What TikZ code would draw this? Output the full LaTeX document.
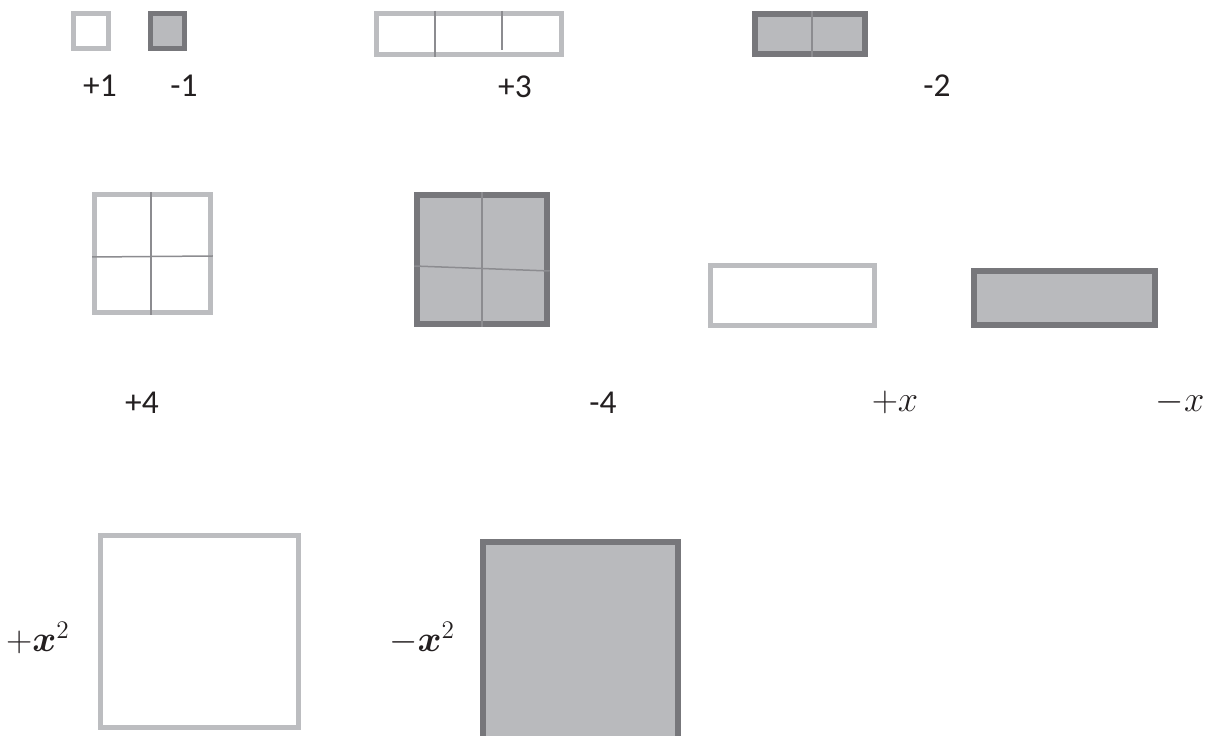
\documentclass[tikz,border=0pt]{standalone}
\usepackage{amsmath}
\usepackage{fontspec}
\setmainfont{Carlito}
\usepackage{xcolor}
\definecolor{tglight}{HTML}{BCBDC0}
\definecolor{tgdark}{HTML}{77777B}
\definecolor{tgfill}{HTML}{B9BABD}
\definecolor{tgdiv}{HTML}{8C8C90}
\definecolor{tgtext}{HTML}{231F20}
\usepackage{tikz}

\begin{document}
\begin{tikzpicture}[
  x=0.02cm, y=-0.02cm,
  font=\fontsize{19}{23}\selectfont,
  postile/.style={
    rectangle, inner sep=0pt,
    draw=tglight, fill=white,
    line width=0.1cm
  },
  negtile/.style={
    rectangle, inner sep=0pt,
    draw=tgdark, fill=tgfill,
    line width=0.11cm
  },
  divider/.style={line width=0.03cm, color=tgdiv},
  lbl/.style={inner sep=0pt, text=tgtext},
  mlbl/.style={lbl, font=\fontsize{20}{24}\selectfont}
]
\useasboundingbox (0,0) rectangle (1215,736);
\clip (0,0) rectangle (1215,736);

\node[postile, minimum width=0.7cm, minimum height=0.7cm] (one) at (91,31) {};
\node[negtile, minimum width=0.68cm, minimum height=0.7cm] (mone) at (167.5,31) {};
\node[postile, minimum width=3.7cm, minimum height=0.82cm] (three) at (469,34) {};
\node[negtile, minimum width=2.2cm, minimum height=0.8cm] (mtwo) at (810,34) {};
\node[postile, minimum width=2.32cm, minimum height=2.36cm] (four) at (152.5,253.5) {};
\node[negtile, minimum width=2.6cm, minimum height=2.58cm] (mfour) at (482,259.5) {};
\node[postile, minimum width=3.28cm, minimum height=1.2cm] (xpos) at (792.5,295.5) {};
\node[negtile, minimum width=3.62cm, minimum height=1.08cm] (xneg) at (1064.5,298) {};
\node[postile, minimum width=3.96cm, minimum height=3.84cm] (sqpos) at (199.5,631.5) {};
\node[negtile, minimum width=3.9cm, minimum height=4.0cm] (sqneg) at (580.5,642) {};

\draw[divider] ([xshift=-0.68cm]three.north) -- ([xshift=-0.68cm]three.south);
\draw[divider] ([xshift=0.66cm]three.north) -- ([xshift=0.66cm, yshift=0.13cm]three.south);
\draw[divider] ([xshift=0.04cm]mtwo.north) -- ([xshift=0.04cm]mtwo.south);
\draw[divider] ([xshift=-0.03cm]four.north) -- ([xshift=-0.03cm]four.south);
\draw[divider] ([yshift=-0.07cm]four.west) -- ([yshift=-0.05cm]four.east);
\draw[divider] (mfour.north) -- (mfour.south);
\draw[divider] ([yshift=-0.13cm]mfour.west) -- ([yshift=-0.23cm]mfour.east);

\node[lbl] (lone) at (100,86) {+1};
\node[lbl] (lmone) at (184,86) {-1};
\node[lbl] (lthree) at (515,87) {+3};
\node[lbl] (lmtwo) at (937,86) {-2};
\node[lbl] (lfour) at (142,403) {+4};
\node[lbl] (lmfour) at (603,403) {-4};
\node[mlbl] (lxpos) at (895,402) {$+x$};
\node[mlbl] (lxneg) at (1180,402) {$-x$};
\node[mlbl] (lsqpos) at (38,638) {$+\boldsymbol{x}^{2}$};
\node[mlbl] (lsqneg) at (422,638) {$-\boldsymbol{x}^{2}$};
\end{tikzpicture}
\end{document}
